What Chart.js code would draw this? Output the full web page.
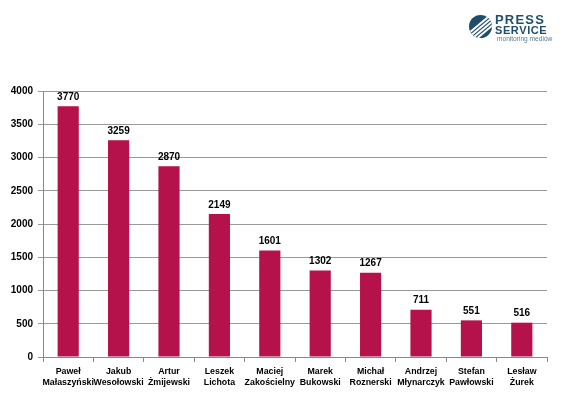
<!DOCTYPE html>
<html>
<head>
<meta charset="utf-8">
<script src="https://cdn.jsdelivr.net/npm/chart.js@4/dist/chart.umd.min.js"></script>
<style>
html,body{margin:0;padding:0;background:#fff;}
#wrap{position:relative;width:580px;height:393px;}
#c{position:absolute;left:0;top:0;}
#logo{position:absolute;left:468px;top:13px;width:112px;height:32px;font-family:"Liberation Sans",Arial,sans-serif;}
#logo .ic{position:absolute;left:1px;top:2px;width:23px;height:23px;border-radius:50%;background:#1f4e6d;overflow:hidden;}
#logo .ic i{position:absolute;left:-4px;width:32px;height:2px;background:#fff;transform:rotate(-40deg);}
#logo .t1{position:absolute;left:27px;top:1px;font-weight:bold;font-size:13px;letter-spacing:1.2px;color:#1f4e6d;line-height:12px;}
#logo .t2{position:absolute;left:27px;top:12px;font-weight:bold;font-size:11px;letter-spacing:0.6px;color:#1f4e6d;line-height:10px;}
#logo .t3{position:absolute;left:29px;top:22px;font-size:6.6px;color:#5a7d93;line-height:8px;}
</style>
</head>
<body>
<div id="wrap">
<canvas id="c" width="580" height="393"></canvas>
<div id="logo">
  <div class="ic"><i style="top:7px"></i><i style="top:11px"></i><i style="top:15px"></i><i style="top:19px"></i></div>
  <div class="t1">PRESS</div>
  <div class="t2">SERVICE</div>
  <div class="t3">monitoring mediów</div>
</div>
</div>
<script>
const categories = [
  ["Paweł","Małaszyński"],
  ["Jakub","Wesołowski"],
  ["Artur","Żmijewski"],
  ["Leszek","Lichota"],
  ["Maciej","Zakościelny"],
  ["Marek","Bukowski"],
  ["Michał","Roznerski"],
  ["Andrzej","Młynarczyk"],
  ["Stefan","Pawłowski"],
  ["Lesław","Żurek"]
];
const values = [3770, 3259, 2870, 2149, 1601, 1302, 1267, 711, 551, 516];
const yTicks = [0, 500, 1000, 1500, 2000, 2500, 3000, 3500, 4000];

const valueLabels = {
  id: 'valueLabels',
  afterDatasetsDraw(chart) {
    const ctx = chart.ctx;
    const meta = chart.getDatasetMeta(0);
    ctx.save();
    ctx.font = 'bold 10px "Liberation Sans", Arial, sans-serif';
    ctx.fillStyle = '#000';
    ctx.textAlign = 'center';
    ctx.textBaseline = 'bottom';
    meta.data.forEach((bar, i) => {
      ctx.fillText(String(values[i]), bar.x, bar.y - 4);
    });
    ctx.restore();
  }
};

new Chart(document.getElementById('c'), {
  type: 'bar',
  data: {
    labels: categories,
    datasets: [{
      data: values,
      backgroundColor: '#b5124b',
      borderWidth: 0,
      barPercentage: 0.84,
      categoryPercentage: 0.5
    }]
  },
  options: {
    responsive: false,
    animation: false,
    layout: { padding: { left: 0, right: 33, top: 91, bottom: 0 } },
    plugins: { legend: { display: false }, tooltip: { enabled: false } },
    scales: {
      x: {
        afterFit(s) { s.height = 36; },
        grid: { display: true, drawOnChartArea: false, drawTicks: true, tickLength: 5, color: '#888', offset: true },
        border: { display: true, color: '#888' },
        ticks: {
          font: { family: '"Liberation Sans", Arial, sans-serif', size: 8.8, weight: 'bold', lineHeight: 1.25 },
          color: '#000',
          padding: 4,
          maxRotation: 0,
          autoSkip: false
        }
      },
      y: {
        min: 0, max: 4000,
        afterFit(s) { s.width = 43; },
        afterBuildTicks(s) { s.ticks = yTicks.map(v => ({ value: v })); },
        grid: { color: '#999', drawTicks: true, tickLength: 5 },
        border: { display: true, color: '#888' },
        ticks: {
          font: { family: '"Liberation Sans", Arial, sans-serif', size: 10, weight: 'bold' },
          color: '#000',
          padding: 5,
          callback: (v) => String(v)
        }
      }
    }
  },
  plugins: [valueLabels]
});
</script>
</body>
</html>
